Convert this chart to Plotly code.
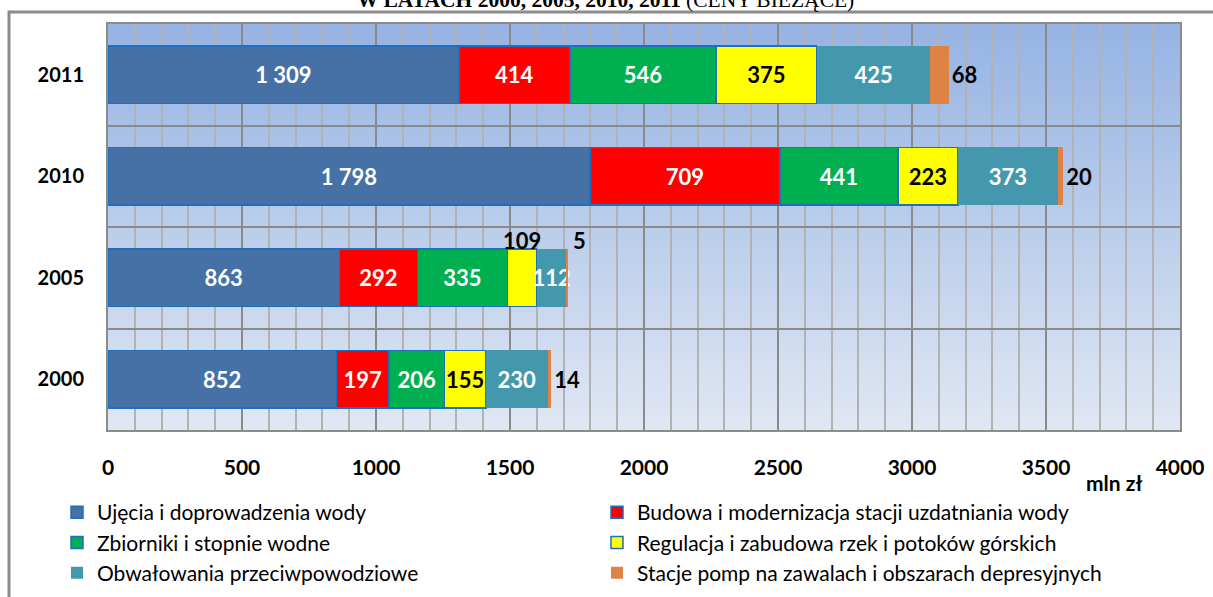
import plotly.graph_objects as go

# ---- data ----
years = ["2000", "2005", "2010", "2011"]
series_names = [
    "Ujęcia i doprowadzenia wody",
    "Budowa i modernizacja stacji uzdatniania wody",
    "Zbiorniki i stopnie wodne",
    "Regulacja i zabudowa rzek i potoków górskich",
    "Obwałowania przeciwpowodziowe",
    "Stacje pomp na zawalach i obszarach depresyjnych",
]
ujecia = [852, 863, 1798, 1309]
budowa = [197, 292, 709, 414]
zbiorniki = [206, 335, 441, 546]
regulacja = [155, 109, 223, 375]
obwalowania = [230, 112, 373, 425]
stacje = [14, 5, 20, 68]
x_ticks = [0, 500, 1000, 1500, 2000, 2500, 3000, 3500, 4000]
title_text = "<b>W LATACH 2000, 2005, 2010, 2011</b> (CENY BIEŻĄCE)"
unit_text = "mln zł"

# ---- styles ----
colors = ["#4571A6", "#FF0000", "#00B050", "#FFFF00", "#4398AE", "#DF8344"]
edge = ["#1F6FBF", "#1F6FBF", "#1F6FBF", "#1F6FBF", None, None]
label_col = ["white", "white", "white", "black", "white", "black"]
FONT = "Lato"
W, H = 1213, 597
ML, MR, MT, MB = 108, 33, 24, 167
PW, PH = W - ML - MR, H - MT - MB


def px2paper_x(px):
    return (px - ML) / PW


def px2paper_y(py):
    return (H - MB - py) / PH


all_series = [ujecia, budowa, zbiorniki, regulacja, obwalowania, stacje]
fig = go.Figure()
for i, (name, vals) in enumerate(zip(series_names, all_series)):
    if i == 5:
        tpos = ["outside", "none", "outside", "outside"]
    elif i == 3:
        tpos = ["inside", "none", "inside", "inside"]
    else:
        tpos = "inside"
    fig.add_trace(go.Bar(
        orientation="h", x=vals, y=years, name=name,
        marker=dict(color=colors[i],
                    line=dict(color=edge[i] or colors[i], width=1.5 if edge[i] else 0)),
        texttemplate="%{x:,}", textposition=tpos, textangle=0,
        insidetextanchor="middle", constraintext="none", cliponaxis=False,
        insidetextfont=dict(family=FONT, size=22, color=label_col[i], weight=700),
        outsidetextfont=dict(family=FONT, size=22, color="black", weight=700),
        hoverinfo="skip",
    ))

# background gradient strips (plot area)
shapes = []
N = 60
top = (149, 179, 227)
bot = (224, 231, 243)
for k in range(N):
    t = (k + 0.5) / N
    c = tuple(int(round(top[j] * t + bot[j] * (1 - t))) for j in range(3))
    shapes.append(dict(type="rect", xref="x domain", yref="y domain",
                       x0=0, x1=1, y0=k / N, y1=(k + 1) / N + 0.002,
                       fillcolor="rgb(%d,%d,%d)" % c, line=dict(width=0), layer="below"))
# outer chart frame (partially visible)
shapes.append(dict(type="rect", xref="paper", yref="paper",
                   x0=px2paper_x(9), x1=px2paper_x(1240), y0=px2paper_y(12), y1=px2paper_y(640),
                   line=dict(color="#8C8C8C", width=3), fillcolor="rgba(0,0,0,0)", layer="below"))

i2005 = years.index("2005")
x109 = ujecia[i2005] + budowa[i2005] + zbiorniki[i2005] + regulacja[i2005] / 2
x5 = sum(s[i2005] for s in all_series)
annotations = [
    dict(text="%d" % regulacja[i2005], x=x109, y=i2005, xref="x", yref="y",
         xanchor="center", yanchor="middle",
         showarrow=False, yshift=37, font=dict(family=FONT, size=22, color="black", weight=700)),
    dict(text="%d" % stacje[i2005], x=x5, y=i2005, xref="x", yref="y", xanchor="left", yanchor="middle",
         showarrow=False, xshift=3, yshift=37, font=dict(family=FONT, size=22, color="black", weight=700)),
    dict(text=unit_text, x=px2paper_x(1114), y=px2paper_y(482), xref="paper", yref="paper",
         xanchor="center", yanchor="middle",
         showarrow=False, font=dict(family=FONT, size=21, color="black", weight=700)),
    dict(text=title_text, x=px2paper_x(605), y=px2paper_y(14), xref="paper", yref="paper",
         xanchor="center", yanchor="bottom", showarrow=False,
         font=dict(family="Liberation Serif", size=21.5, color="black")),
]

fig.update_layout(
    width=W, height=H, autosize=False,
    margin=dict(l=ML, r=MR, t=MT, b=MB, autoexpand=False),
    barmode="stack", bargap=0.43,
    paper_bgcolor="white", plot_bgcolor="rgba(0,0,0,0)",
    separators=", ",
    shapes=shapes, annotations=annotations,
    showlegend=True,
    legend=dict(orientation="h", x=px2paper_x(57), y=px2paper_y(492), xanchor="left", yanchor="top",
                entrywidth=495, traceorder="normal",
                font=dict(family=FONT, size=21, color="black"), bgcolor="rgba(0,0,0,0)"),
    xaxis=dict(range=[0, 4000], tickvals=x_ticks, showgrid=True, gridcolor="#8A8A8A", gridwidth=1.5,
               minor=dict(dtick=100, tick0=0, showgrid=True, gridcolor="#B2B2B2", gridwidth=1.5),
               zeroline=False, ticks="", ticklabelstandoff=18, automargin=False,
               tickfont=dict(family=FONT, size=21, color="black", weight=700),
               showline=True, mirror=True, linecolor="#8C8C8C", linewidth=2),
    yaxis=dict(type="category", categoryorder="array", categoryarray=years, tickson="boundaries",
               range=[-0.5, len(years) - 0.5], automargin=False,
               showgrid=True, gridcolor="#8A8A8A", gridwidth=2, ticks="", ticklabelstandoff=18,
               tickfont=dict(family=FONT, size=20, color="black", weight=700),
               showline=True, mirror=True, linecolor="#8C8C8C", linewidth=2),
)

fig.write_html("out.html", config={"displayModeBar": False},
               post_script="document.body.style.margin='0';document.body.style.overflow='hidden';")
